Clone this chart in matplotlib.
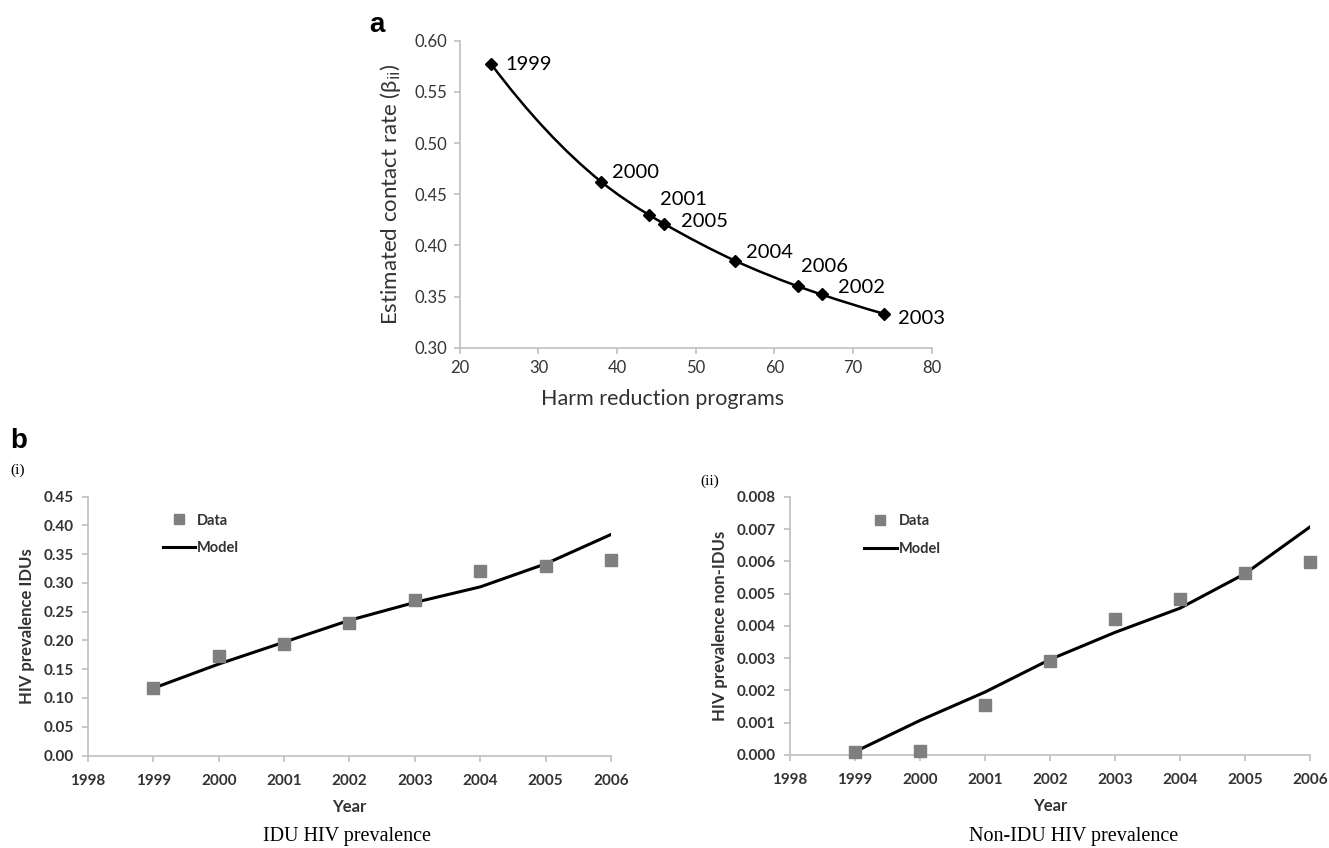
import numpy as np
import matplotlib.pyplot as plt
from matplotlib.path import Path
from matplotlib.patches import PathPatch

plt.rcParams['font.family'] = ['Lato', 'DejaVu Sans']

# ---- panel a: contact rate vs harm reduction programs ----
programs = [24, 38, 44, 46, 55, 63, 66, 74]
contact_rate = [0.577, 0.462, 0.430, 0.421, 0.385, 0.360, 0.352, 0.333]
point_years = ['1999', '2000', '2001', '2005', '2004', '2006', '2002', '2003']
# label offsets in points (dx, dy)
label_offsets = [(10, 0), (8, 7), (8, 11), (12, 2), (8, 6), (2, 14), (12, 5), (10, -3)]

# ---- panel b: prevalence data and model ----
years = [1999, 2000, 2001, 2002, 2003, 2004, 2005, 2006]
idu_data = [0.117, 0.173, 0.193, 0.231, 0.270, 0.320, 0.330, 0.339]
idu_model = [0.117, 0.159, 0.197, 0.235, 0.266, 0.293, 0.333, 0.384]
non_idu_data = [0.00008, 0.00013, 0.00154, 0.00292, 0.00422, 0.00483, 0.00564, 0.00599]
non_idu_model = [0.0001, 0.00107, 0.00195, 0.00296, 0.0038, 0.00455, 0.00562, 0.00707]

axis_grey = '#bfbfbf'
text_grey = '#333333'


def smooth_path(x, y):
    # smoothed line through the points: cubic Hermite segments as Beziers
    x = np.asarray(x, float)
    y = np.asarray(y, float)
    m = np.gradient(y, x, edge_order=2)
    verts = [(x[0], y[0])]
    codes = [Path.MOVETO]
    for i in range(len(x) - 1):
        h = x[i + 1] - x[i]
        verts += [(x[i] + h / 3, y[i] + m[i] * h / 3),
                  (x[i + 1] - h / 3, y[i + 1] - m[i + 1] * h / 3),
                  (x[i + 1], y[i + 1])]
        codes += [Path.CURVE4] * 3
    return Path(verts, codes)


def style_axes(ax):
    for side in ['top', 'right']:
        ax.spines[side].set_visible(False)
    for side in ['left', 'bottom']:
        ax.spines[side].set_color(axis_grey)
        ax.spines[side].set_linewidth(1.2)
    ax.tick_params(color=axis_grey, direction='out', length=4, width=1.2,
                   labelcolor=text_grey)


fig = plt.figure(figsize=(13.29, 8.48), dpi=100)

# panel a
ax_a = fig.add_axes([0.346, 0.590, 0.355, 0.362])
style_axes(ax_a)
ax_a.add_patch(PathPatch(smooth_path(programs, contact_rate), facecolor='none',
                         edgecolor='black', lw=1.8))
ax_a.plot(programs, contact_rate, linestyle='none', marker='D', ms=6,
          color='black')
for px, py, lab, off in zip(programs, contact_rate, point_years, label_offsets):
    ax_a.annotate(lab, (px, py), xytext=off, textcoords='offset points',
                  fontsize=14.5, color='black', va='center', ha='left')
ax_a.set_xlim(20, 80)
ax_a.set_ylim(0.30, 0.60)
ax_a.set_xticks(np.arange(20, 81, 10))
ax_a.set_yticks(np.arange(0.30, 0.601, 0.05))
ax_a.yaxis.set_major_formatter(plt.FormatStrFormatter('%.2f'))
ax_a.tick_params(labelsize=12, pad=5)
ax_a.set_xlabel('Harm reduction programs', fontsize=15.5, color=text_grey)
ax_a.xaxis.set_label_coords(0.43, -0.135)
ax_a.set_ylabel(r'Estimated contact rate (β$_{\mathrm{ii}}$)', fontsize=16,
                color=text_grey, labelpad=8)

fig.text(0.278, 0.962, 'a', fontsize=20, fontweight='bold',
         family='Liberation Sans')
fig.text(0.008, 0.472, 'b', fontsize=20, fontweight='bold',
         family='Liberation Sans')


def prevalence_panel(rect, data, model, ymax, ystep, fmt, ylabel):
    ax = fig.add_axes(rect)
    style_axes(ax)
    ax.plot(years, model, color='black', lw=2.2, label='Model', zorder=2)
    ax.plot(years, data, linestyle='none', marker='s', ms=9,
            color='#7f7f7f', label='Data', zorder=3, clip_on=False)
    ax.set_xlim(1998, 2006)
    ax.set_ylim(0, ymax)
    ax.set_xticks(np.arange(1998, 2007, 1))
    ax.set_yticks(np.arange(0, ymax + ystep / 2, ystep))
    ax.yaxis.set_major_formatter(plt.FormatStrFormatter(fmt))
    ax.tick_params(labelsize=11, pad=6)
    ax.tick_params(axis='x', pad=9)
    for lab in ax.get_xticklabels() + ax.get_yticklabels():
        lab.set_fontweight('bold')
    ax.set_xlabel('Year', fontsize=12, fontweight='bold', color=text_grey,
                  labelpad=8)
    ax.set_ylabel(ylabel, fontsize=12, fontweight='bold', color=text_grey,
                  labelpad=6)
    handles, labels = ax.get_legend_handles_labels()
    leg = ax.legend(handles[::-1], labels[::-1], loc='upper left',
                    bbox_to_anchor=(0.118, 0.985), frameon=False,
                    fontsize=10.5, handlelength=2.2, handletextpad=0.15,
                    labelspacing=0.95, markerscale=0.85)
    for t in leg.get_texts():
        t.set_fontweight('bold')
        t.set_color(text_grey)
    return ax


prevalence_panel([0.0662, 0.109, 0.3935, 0.3055], idu_data, idu_model,
                 0.45, 0.05, '%.2f', 'HIV prevalence IDUs')
prevalence_panel([0.5944, 0.1097, 0.3913, 0.3043], non_idu_data, non_idu_model,
                 0.008, 0.001, '%.3f', 'HIV prevalence non-IDUs')

serif = 'Liberation Serif'
fig.text(0.008, 0.445, '(i)', fontsize=11, family=serif, va='center')
fig.text(0.527, 0.432, '(ii)', fontsize=11, family=serif, va='center')
fig.text(0.261, 0.008, 'IDU HIV prevalence', fontsize=14.5, family=serif,
         ha='center')
fig.text(0.808, 0.008, 'Non-IDU HIV prevalence', fontsize=14.5, family=serif,
         ha='center')

fig.savefig('out.png', dpi=100)
